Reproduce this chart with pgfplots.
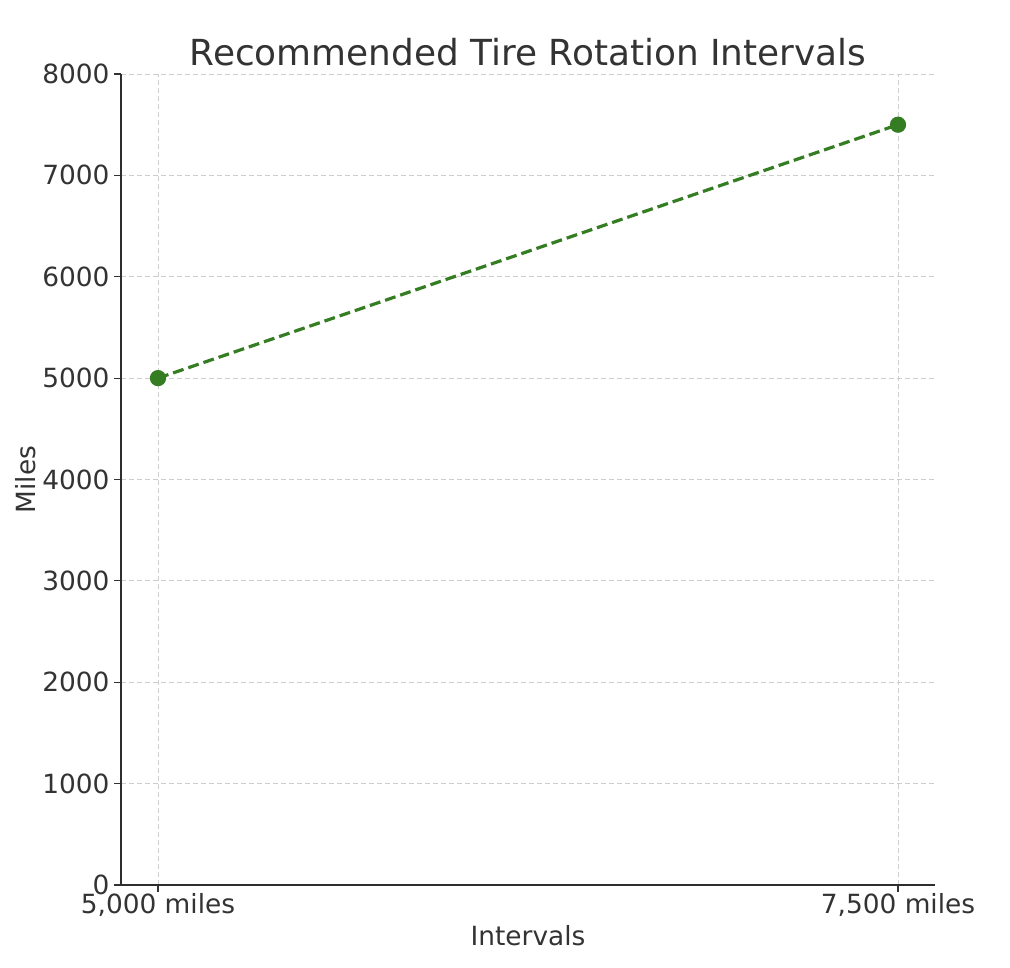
\documentclass[border=0pt]{standalone}
\usepackage{fontspec}
\setmainfont{DejaVu Sans}
\usepackage{pgfplots}
\pgfplotsset{compat=1.18}
\definecolor{linegreen}{RGB}{52,125,35}
\definecolor{txt}{RGB}{51,51,51}
\definecolor{gridc}{RGB}{205,205,205}
\begin{document}
\begin{tikzpicture}
\begin{axis}[
  scale only axis,
  width=814bp, height=811bp,
  at={(0,0)}, anchor=south west,
  xmin=-0.05, xmax=1.05,
  ymin=0, ymax=8000,
  xtick={0,1},
  xticklabels={5{,}000 miles,7{,}500 miles},
  ytick={0,1000,2000,3000,4000,5000,6000,7000,8000},
  axis x line*=bottom, axis y line*=left,
  axis line style={line width=1.5bp, color=txt!90!black},
  tick align=outside,
  major tick length=7bp,
  every tick/.style={line width=1.2bp, color=txt},
  grid=major,
  major grid style={gridc, line width=0.9bp, dash pattern=on 5bp off 3bp},
  /pgf/number format/assume math mode=true,
  /pgf/number format/1000 sep={},
  tick label style={font=\fontsize{26.5}{30}\selectfont, text=txt},
  yticklabel style={xshift=-1bp},
  xticklabel style={yshift=2bp},
  xlabel={Intervals}, ylabel={Miles},
  label style={font=\fontsize{26.5}{30}\selectfont, text=txt},
  xlabel style={yshift=-2bp},
  ylabel style={yshift=0bp},
  title={Recommended Tire Rotation Intervals},
  title style={font=\fontsize{36}{42}\selectfont, text=txt, yshift=-2bp},
]
\addplot[linegreen, line width=3.2bp, dash pattern=on 11bp off 5bp, mark=*, mark size=6.5bp, mark options={solid, fill=linegreen, draw=linegreen}]
  coordinates {(0,5000) (1,7500)};
\end{axis}
\path[use as bounding box] (-121bp,-83bp) rectangle (889bp,885bp);
\end{tikzpicture}
\end{document}
